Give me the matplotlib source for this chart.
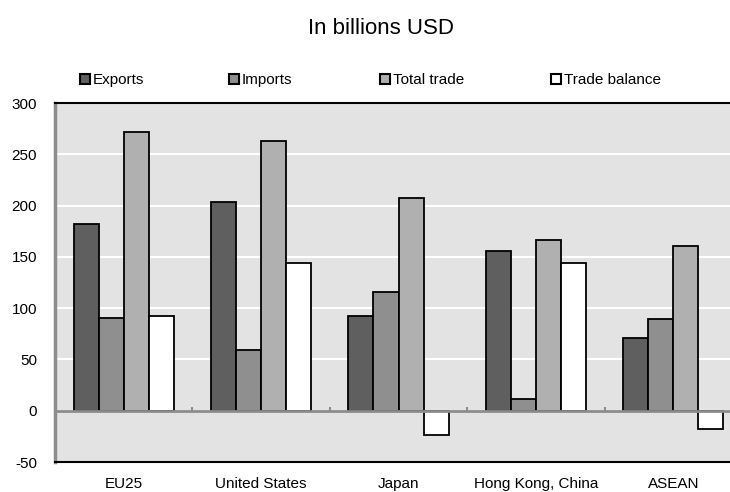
import numpy as np
import matplotlib
matplotlib.use('Agg')
import matplotlib.pyplot as plt
from matplotlib.patches import Patch

plt.rcParams['font.family'] = ['Liberation Sans', 'DejaVu Sans']
plt.rcParams['axes.unicode_minus'] = False

categories = ['EU25', 'United States', 'Japan', 'Hong Kong, China', 'ASEAN']
series = ['Exports', 'Imports', 'Total trade', 'Trade balance']
exports = [182, 203, 92, 156, 71]
imports = [90, 59, 116, 11, 89]
total_trade = [272, 263, 207, 166, 161]
trade_balance = [92, 144, -24, 144, -18]
colors = ['#5f5f5f', '#8f8f8f', '#b0b0b0', '#ffffff']
legend_x = [80, 229, 380, 551]  # legend square positions, px

fig = plt.figure(figsize=(7.3, 4.92), dpi=100)
ax = fig.add_axes([55 / 730, 30 / 492, 687 / 730, 359 / 492])
ax.set_facecolor('#e3e3e3')

x = np.arange(len(categories))
w = 0.182
for j, vals in enumerate([exports, imports, total_trade, trade_balance]):
    ax.bar(x + (j - 1.5) * w, vals, width=w, color=colors[j],
           edgecolor='black', linewidth=1.3, zorder=3)

ax.set_xlim(-0.5, len(categories) - 0.5)
ax.set_ylim(-50, 300)
ax.set_yticks(range(-50, 301, 50))
ax.yaxis.grid(True, color='white', linewidth=1.5, zorder=0)
ax.set_axisbelow(True)
ax.tick_params(axis='y', length=0, pad=13, labelsize=11)
ax.set_xticks(x)
ax.set_xticklabels(categories)
ax.tick_params(axis='x', length=0, pad=11, labelsize=11)

ax.axhline(0, color='#8c8c8c', linewidth=2, zorder=4)
ax.vlines(x[:-1] + 0.5, 0, 3.5, color='#8c8c8c', linewidth=1.5, zorder=4)

for s in ['top', 'bottom']:
    ax.spines[s].set_color('black')
    ax.spines[s].set_linewidth(1.5)
ax.spines['left'].set_color('#8c8c8c')
ax.spines['left'].set_linewidth(2.5)
ax.spines['right'].set_visible(False)

for name, c, lx in zip(series, colors, legend_x):
    h = Patch(facecolor=c, edgecolor='black', linewidth=1.5)
    fig.legend([h], [name], loc='center left', bbox_to_anchor=(lx / 730, 1 - 80 / 492),
               frameon=False, fontsize=11, handlelength=0.65, handleheight=0.65,
               handletextpad=0.2, borderpad=0, borderaxespad=0)

fig.text(381 / 730, 1 - 28 / 492, 'In billions USD', ha='center', va='center', fontsize=16)

fig.savefig('out.png', dpi=100)
